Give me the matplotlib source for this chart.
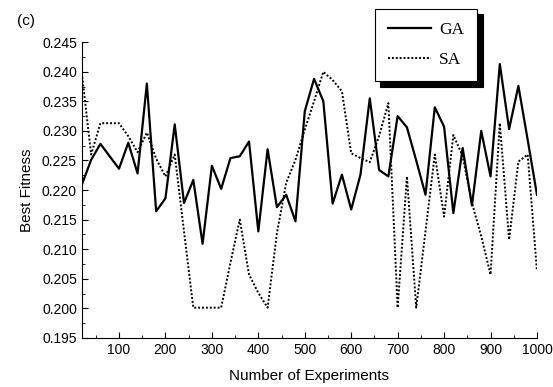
import numpy as np
import matplotlib.pyplot as plt
from matplotlib.ticker import MultipleLocator

plt.rcParams['font.family'] = ['Liberation Sans', 'DejaVu Sans']

# experiments 20..1000, step 20
experiments = np.arange(20, 1001, 20)

ga = [0.2209, 0.2251, 0.2278, 0.2257, 0.2236, 0.2280, 0.2228, 0.2380, 0.2164, 0.2186,
      0.2311, 0.2178, 0.2217, 0.2109, 0.2241, 0.2202, 0.2254, 0.2257, 0.2282, 0.2130,
      0.2269, 0.2171, 0.2192, 0.2147, 0.2333, 0.2388, 0.2350, 0.2177, 0.2226, 0.2167,
      0.2226, 0.2355, 0.2234, 0.2223, 0.2325, 0.2306, 0.2250, 0.2192, 0.2340, 0.2307,
      0.2161, 0.2271, 0.2174, 0.2300, 0.2223, 0.2413, 0.2303, 0.2376, 0.2285, 0.2192]

sa = [0.2398, 0.2260, 0.2313, 0.2313, 0.2313, 0.2291, 0.2264, 0.2297, 0.2253, 0.2223,
      0.2260, 0.2130, 0.2001, 0.2001, 0.2001, 0.2001, 0.2077, 0.2150, 0.2057, 0.2026,
      0.2001, 0.2127, 0.2212, 0.2251, 0.2302, 0.2350, 0.2400, 0.2386, 0.2367, 0.2262,
      0.2254, 0.2247, 0.2291, 0.2347, 0.2001, 0.2223, 0.2001, 0.2130, 0.2260, 0.2155,
      0.2293, 0.2257, 0.2178, 0.2122, 0.2057, 0.2313, 0.2116, 0.2248, 0.2260, 0.2063]

fig = plt.figure(figsize=(5.53, 3.87), dpi=100)
ax = fig.add_axes([0.148, 0.127, 0.823, 0.764])

l1, = ax.plot(experiments, ga, color='black', lw=1.6, label='GA')
l2, = ax.plot(experiments, sa, color='black', lw=1.4, linestyle=(0, (1, 1)), label='SA')

ax.set_xlim(20, 1000)
ax.set_ylim(0.195, 0.245)
ax.xaxis.set_major_locator(MultipleLocator(100))
ax.xaxis.set_minor_locator(MultipleLocator(50))
ax.yaxis.set_major_locator(MultipleLocator(0.005))
ax.yaxis.set_minor_locator(MultipleLocator(0.0025))
ax.yaxis.set_major_formatter(plt.FormatStrFormatter('%.3f'))
ax.tick_params(which='both', direction='in', labelsize=10)
ax.tick_params(which='major', length=4)
ax.tick_params(which='minor', length=2)
for s in ['top', 'right']:
    ax.spines[s].set_visible(False)

ax.set_xlabel('Number of Experiments', fontsize=11, labelpad=9)
ax.set_ylabel('Best Fitness', fontsize=11, labelpad=6)

fig.text(0.03, 0.935, '(c)', fontsize=11)

leg = fig.legend(handles=[l1, l2], loc='upper left', bbox_to_anchor=(0.678, 0.977),
                 borderaxespad=0, fancybox=False, edgecolor='black', framealpha=1,
                 shadow={'ox': 4, 'oy': -4, 'color': 'black', 'alpha': 1},
                 prop={'family': 'Liberation Serif', 'size': 12.5},
                 handlelength=2.5, handletextpad=0.45, borderpad=0.75,
                 labelspacing=0.8)
leg.get_frame().set_linewidth(0.8)

fig.savefig('out.png', dpi=100)
